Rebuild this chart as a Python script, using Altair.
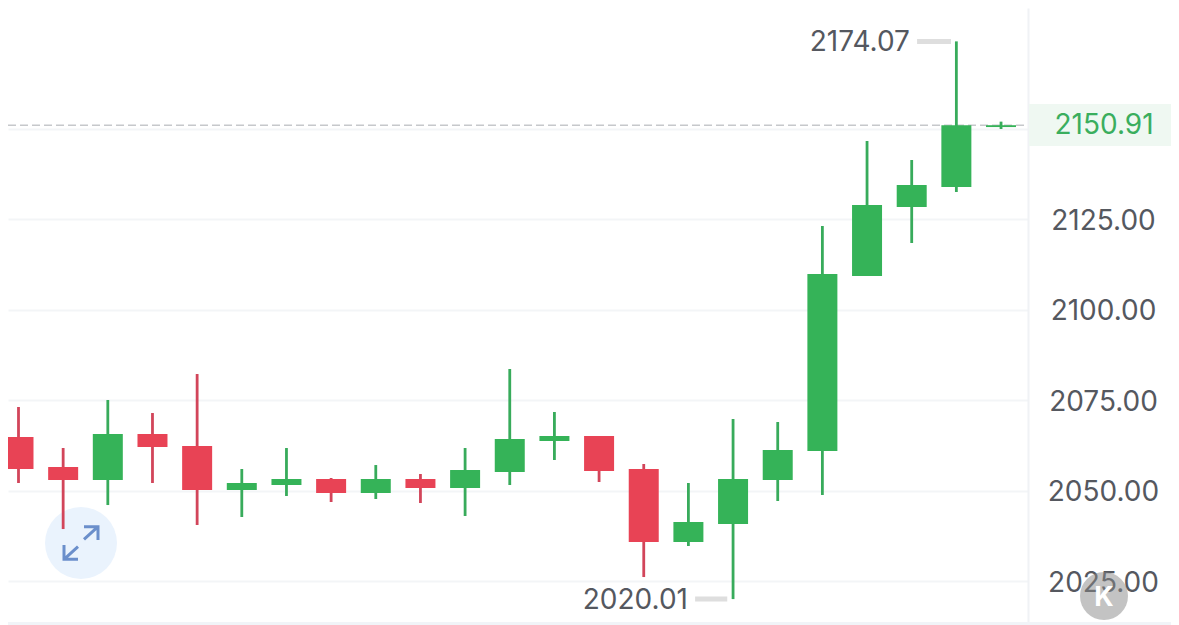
import altair as alt
import pandas as pd

index = list(range(23))
high = [2073.07, 2061.74, 2075.00, 2071.41, 2082.18, 2055.94, 2061.74, 2053.45, 2057.04, 2054.56, 2061.74, 2083.56,
        2071.69, 2065.06, 2057.32, 2052.07, 2069.75, 2068.92, 2123.07, 2146.55, 2141.30, 2174.07, 2151.90]
top = [2064.78, 2056.49, 2065.61, 2065.61, 2062.29, 2052.07, 2053.18, 2053.18, 2053.18, 2053.18, 2055.66, 2064.23,
       2065.06, 2065.06, 2055.94, 2041.30, 2053.18, 2061.19, 2109.81, 2128.87, 2134.39, 2150.91, 2150.91]
bottom = [2055.94, 2052.90, 2052.90, 2062.02, 2050.14, 2050.14, 2051.52, 2049.31, 2049.31, 2050.69, 2050.69, 2055.11,
          2063.67, 2055.39, 2035.77, 2035.77, 2040.75, 2052.90, 2060.91, 2109.25, 2128.31, 2133.84, 2150.40]
low = [2052.07, 2039.36, 2045.99, 2052.07, 2040.47, 2042.68, 2048.48, 2046.82, 2047.65, 2046.55, 2042.96, 2051.52,
       2058.43, 2052.35, 2026.10, 2034.67, 2020.01, 2047.10, 2048.76, 2109.25, 2118.37, 2132.46, 2149.86]
direction = ["down", "down", "up", "down", "down", "up", "up", "down", "up", "down", "up", "up",
             "up", "down", "down", "up", "up", "up", "up", "up", "up", "up", "up"]

grid_values = [2025, 2050, 2075, 2100, 2125, 2150]
last_price = 2150.91
last_band = [2145.2, 2156.8]
extreme_labels = ["2174.07", "2020.01"]
extreme_values = [2174.07, 2020.01]
extreme_label_x = [19.96, 14.99]
extreme_dash_start = [20.12, 15.15]
extreme_dash_end = [20.88, 15.87]

GREEN, RED = "#35b358", "#e84355"
WICK_GREEN, WICK_RED = "#38ab5b", "#d2455a"
INK = "#55585f"
FONT = "Inter"
FS = 28

df = pd.DataFrame(dict(i=index, high=high, top=top, bottom=bottom, low=low, d=direction))
ext = pd.DataFrame(dict(label=extreme_labels, v=extreme_values, lx=extreme_label_x,
                        ds=extreme_dash_start, de=extreme_dash_end))
one = pd.DataFrame(dict(p=[last_price], lo=[last_band[0]], hi=[last_band[1]], label=[f"{last_price:.2f}"]))

y_axis = alt.Axis(
    orient="right", values=grid_values, grid=True, gridColor="#f3f5f7", gridWidth=2,
    ticks=False, domain=True, domainColor="#f0f2f5", domainWidth=2, title=None,
    labelFont=FONT, labelFontSize=FS, labelColor=INK, labelAlign="center", labelBaseline="middle",
    labelPadding=75, labelOffset=2, labelOverlap=False, labelFlush=False,
    labelExpr="datum.value == 2150 ? '' : format(datum.value, '.2f')")

xs = alt.Scale(domain=[-0.235, 22.604], nice=False, zero=False, padding=0)
ys = alt.Scale(domain=[2012.85, 2183.29], nice=False, zero=False, padding=0)
X = lambda f: alt.X(f, type="quantitative", scale=xs, axis=None)
Y = lambda f: alt.Y(f, type="quantitative", scale=ys, axis=y_axis, title=None)

axis_layer = alt.Chart(pd.DataFrame(dict(v=grid_values))).mark_rule(opacity=0).encode(y=Y("v"))

band = alt.Chart(one).mark_rect(color="#eff8f2").encode(
    x=alt.value(1021), x2=alt.value(1163), y=Y("lo"), y2="hi")
band_text = alt.Chart(one).mark_text(font=FONT, fontSize=FS, color="#3aae5e", baseline="middle", dy=1).encode(
    x=alt.value(1096), y=Y("p"), text="label:N")
dash = alt.Chart(one).mark_rule(color="#c6c8cb", strokeWidth=1.5, strokeDash=[8, 4]).encode(
    x=alt.value(0), x2=alt.value(1020), y=Y("p"))

color = alt.Color("d:N", scale=alt.Scale(domain=["up", "down"], range=[GREEN, RED]), legend=None)
wick_color = alt.Color("d:N", scale=alt.Scale(domain=["up", "down"], range=[WICK_GREEN, WICK_RED]), legend=None)
wicks = alt.Chart(df).mark_rule(strokeWidth=2.8).encode(x=X("i"), y=Y("low"), y2="high", stroke=wick_color)
bodies = alt.Chart(df).mark_bar(size=30, orient="vertical").encode(x=X("i"), y=Y("bottom"), y2="top", fill=color)

ext_dash = alt.Chart(ext).mark_rule(color="#dedede", strokeWidth=5).encode(x=X("ds"), x2="de", y=Y("v"))
ext_text = alt.Chart(ext).mark_text(font=FONT, fontSize=FS, color=INK, align="right", baseline="middle", dy=2).encode(
    x=X("lx"), y=Y("v"), text="label:N")

d0 = pd.DataFrame(dict(a=[0]))
expand_bg = alt.Chart(d0).mark_point(shape="circle", filled=True, size=5184, color="#eaf3fd", opacity=1).encode(
    x=alt.value(73), y=alt.value(535))
arrow_path = ("M3,-3.7L17,-16.3M3,-16.3L17,-16.3L17,-3"
              "M-3,3.7L-17,16.3M-17,2L-17,16.3L-3,16.3")
expand_icon = alt.Chart(d0).mark_point(shape=arrow_path, size=4, filled=False, color="#6b8fcb",
                                       strokeWidth=3, opacity=1).encode(x=alt.value(73), y=alt.value(535))
k_bg = alt.Chart(d0).mark_point(shape="circle", filled=True, size=2304, color="#888888", opacity=0.5).encode(
    x=alt.value(1096), y=alt.value(588))
k_text = alt.Chart(pd.DataFrame(dict(t=["K"]))).mark_text(
    font=FONT, fontSize=27, fontWeight="bold", color="#ffffff", baseline="middle").encode(
    x=alt.value(1096), y=alt.value(590), text="t:N")
bottom_edge = alt.Chart(d0).mark_rect(color="#f1f4f8").encode(
    x=alt.value(0), x2=alt.value(1163), y=alt.value(614), y2=alt.value(617))

chart = alt.layer(
    axis_layer, band, dash, expand_bg, expand_icon, wicks, bodies, ext_dash, ext_text, band_text,
    k_bg, k_text, bottom_edge,
).properties(
    width=1020, height=617,
    padding={"left": 0, "top": 0, "right": 143, "bottom": 0},
    autosize=alt.AutoSizeParams(type="none"),
    background="#ffffff",
).configure_view(stroke=None)

chart.save("out.html", embed_options={"renderer": "svg", "actions": False})
